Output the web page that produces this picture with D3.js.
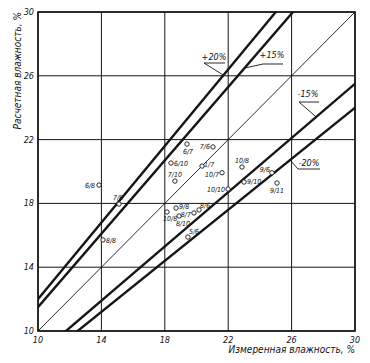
<!DOCTYPE html>
<html>
<head>
<meta charset="utf-8">
<script src="https://cdn.jsdelivr.net/npm/d3@7"></script>
<style>
  body { margin: 0; background: #fff; }
  text { font-family: "Liberation Sans Narrow", "DejaVu Sans Condensed", sans-serif; font-style: italic; fill: #111; }
</style>
</head>
<body>
<div id="main"></div>
<script>
// axis ticks
const tickValues = [10, 14, 18, 22, 26, 30];

// measured points (label = sample/series)
const pointLabels = ["6/8", "7/8", "8/8", "6/7", "7/6", "6/10", "7/10", "1/7", "10/7", "10/8",
                     "9/6", "9/10", "9/11", "10/10", "9/8", "8/6", "8/7", "10/8", "8/10", "5/6"];
const measured   = [13.85, 15.11, 14.10, 19.40, 21.04, 18.39, 18.64, 20.35, 21.61, 22.87,
                    24.76, 23.00, 25.08, 21.99, 18.71, 20.16, 19.84, 18.14, 18.90, 19.46];
const calculated = [19.15, 17.96, 15.71, 21.72, 21.54, 20.53, 19.40, 20.34, 19.92, 20.28,
                    19.92, 19.34, 19.28, 18.90, 17.71, 17.59, 17.40, 17.46, 17.21, 15.89];

// tolerance bands
const bandLabels  = ["+20%", "+15%", "-15%", "-20%"];
const bandFactors = [1.2, 1.15, 0.85, 0.8];
const bandLeaderX = [21.7, 23.03, 27.55, 25.9];

// label placement (layout only)
const labelOffsets = [
    [-4, 3, "end"], [-1, -4, "middle"], [3, 3, "start"], [1, 10, "middle"], [-3, 2, "end"],
    [3, 3, "start"], [0, -4, "middle"], [2, 1, "start"], [-3, 4, "end"], [0, -4, "middle"],
    [-2, -1, "end"], [3, 2, "start"], [0, 10, "middle"], [-3, 3, "end"], [3, 1, "start"],
    [1, -2, "start"], [-3, 4, "end"], [-4, 9, "start"], [4, 10, "middle"], [1, -3, "start"]
];
const bandTextPos = [[214, 60, 204, 225, 63], [272, 58, 263, 283, 64], [308, 97, 299, 319, 102], [309, 166, 298, 320, 169]];

const W = 370, H = 363;
const margin = { top: 12, right: 15, bottom: 32, left: 38 };
const w = W - margin.left - margin.right;
const h = H - margin.top - margin.bottom;

const svg = d3.select("#main").append("svg").attr("width", W).attr("height", H);

const x = d3.scaleLinear().domain([10, 30]).range([margin.left, margin.left + w]);
const y = d3.scaleLinear().domain([10, 30]).range([margin.top + h, margin.top]);

const ink = "#151515";

// grid
svg.append("g")
    .selectAll("line")
    .data(tickValues)
    .join("line")
    .attr("x1", d => x(d)).attr("x2", d => x(d))
    .attr("y1", y(10)).attr("y2", y(30))
    .attr("stroke", ink).attr("stroke-width", 1);

svg.append("g")
    .selectAll("line")
    .data(tickValues)
    .join("line")
    .attr("x1", x(10)).attr("x2", x(30))
    .attr("y1", d => y(d)).attr("y2", d => y(d))
    .attr("stroke", ink).attr("stroke-width", 1);

svg.append("rect")
    .attr("x", x(10)).attr("y", y(30))
    .attr("width", x(30) - x(10)).attr("height", y(10) - y(30))
    .attr("fill", "none").attr("stroke", ink).attr("stroke-width", 1.6);

// tick labels
svg.append("g")
    .selectAll("text")
    .data(tickValues)
    .join("text")
    .attr("x", d => x(d)).attr("y", y(10) + 12)
    .attr("text-anchor", "middle")
    .style("font-size", "9px")
    .text(d => d);

svg.append("g")
    .selectAll("text")
    .data(tickValues)
    .join("text")
    .attr("x", x(10) - 4).attr("y", d => y(d) + 3)
    .attr("text-anchor", "end")
    .style("font-size", "9px")
    .text(d => d);

// 1:1 line
svg.append("clipPath").attr("id", "plot")
    .append("rect").attr("x", x(10)).attr("y", y(30)).attr("width", x(30) - x(10)).attr("height", y(10) - y(30));

const lines = svg.append("g").attr("clip-path", "url(#plot)");
lines.append("line")
    .attr("x1", x(10)).attr("y1", y(10))
    .attr("x2", x(30)).attr("y2", y(30))
    .attr("stroke", ink).attr("stroke-width", 0.9);

// tolerance lines
lines.selectAll("line.band")
    .data(bandFactors)
    .join("line")
    .attr("class", "band")
    .attr("x1", x(0)).attr("y1", y(0))
    .attr("x2", x(40)).attr("y2", k => y(40 * k))
    .attr("stroke", ink).attr("stroke-width", 2.4);

// band labels with leaders
bandLabels.forEach((lab, i) => {
    const [tx, ty, ux1, ux2, uy] = bandTextPos[i];
    const lx = bandLeaderX[i];
    svg.append("text")
        .attr("x", tx).attr("y", ty)
        .attr("text-anchor", "middle")
        .style("font-size", "9px")
        .text(lab);
    svg.append("line")
        .attr("x1", ux1).attr("x2", ux2).attr("y1", uy).attr("y2", uy)
        .attr("stroke", ink).attr("stroke-width", 0.9);
    svg.append("line")
        .attr("x1", ux1).attr("y1", uy)
        .attr("x2", x(lx)).attr("y2", y(lx * bandFactors[i]))
        .attr("stroke", ink).attr("stroke-width", 0.9);
});

// points
const pts = svg.append("g");
pts.selectAll("circle")
    .data(measured)
    .join("circle")
    .attr("cx", d => x(d))
    .attr("cy", (d, i) => y(calculated[i]))
    .attr("r", 2.2)
    .attr("fill", "#fff").attr("stroke", ink).attr("stroke-width", 0.9);

pts.selectAll("text")
    .data(pointLabels)
    .join("text")
    .attr("x", (d, i) => x(measured[i]) + labelOffsets[i][0])
    .attr("y", (d, i) => y(calculated[i]) + labelOffsets[i][1])
    .attr("text-anchor", (d, i) => labelOffsets[i][2])
    .style("font-size", "7px")
    .text(d => d);

// axis titles
svg.append("text")
    .attr("x", x(30)).attr("y", y(10) + 22)
    .attr("text-anchor", "end")
    .style("font-size", "10px")
    .text("Измеренная влажность, %");

svg.append("text")
    .attr("transform", `translate(21,${y(30)}) rotate(-90)`)
    .attr("text-anchor", "end")
    .style("font-size", "10px")
    .text("Расчетная влажность, %");
</script>
</body>
</html>
